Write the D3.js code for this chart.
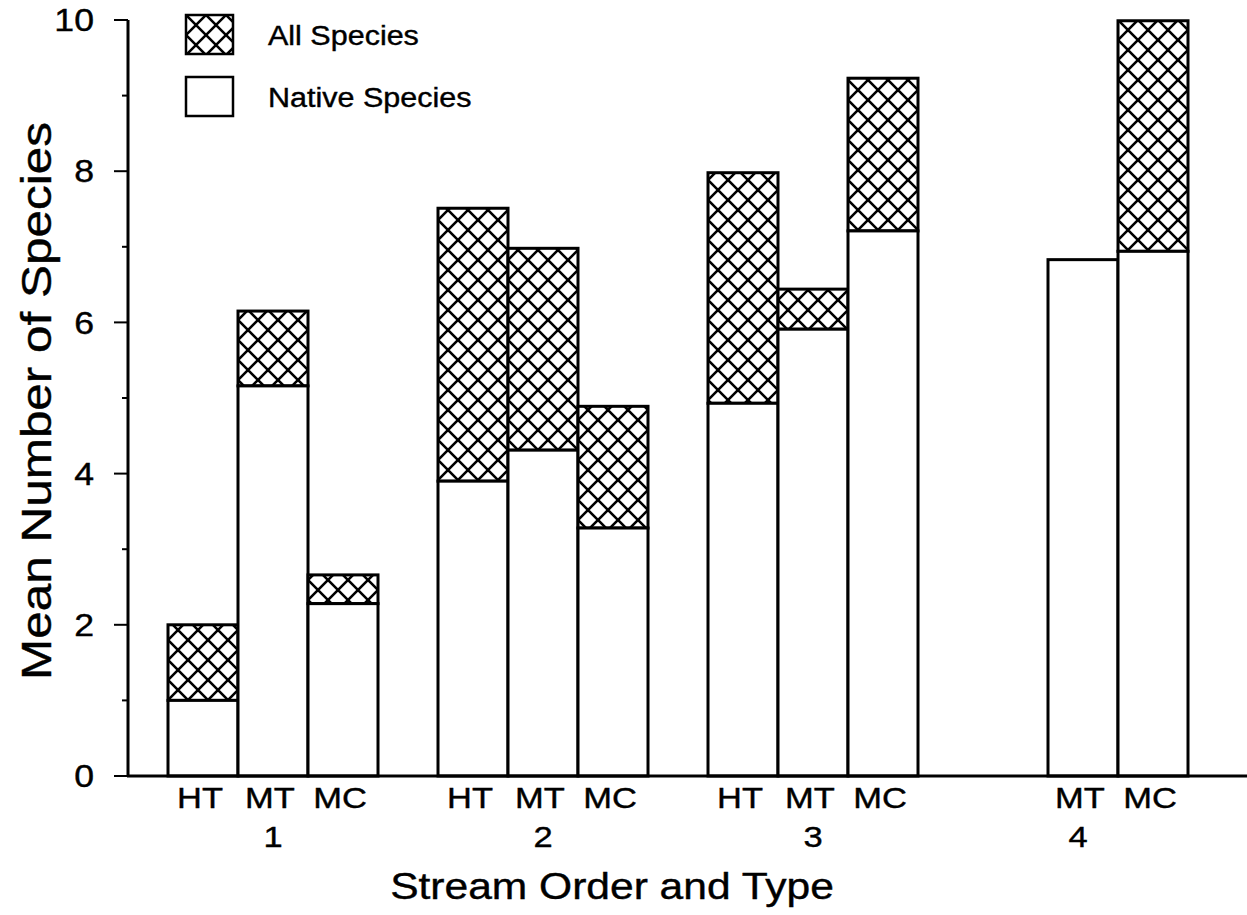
<!DOCTYPE html>
<html lang="en">
<head>
    <meta charset="UTF-8">
    <title>Mean Number of Species</title>
    <script src="https://d3js.org/d3.v7.min.js"></script>
    <style>
        body{ margin:0; background:#fff; }
        text{ font-family: "Liberation Sans", Arial, sans-serif; fill:#000; stroke:#000; stroke-width:0.4px; }
    </style>
</head>
<body>
    <svg id="chart" width="1247" height="915"></svg>

    <script>
        // data
        let groups = ["1", "2", "3", "4"];
        let types = ["HT", "MT", "MC"];
        // native species (white part) per group, per type; null = no bar
        let native_vals = [
            [1.0, 5.16, 2.28],
            [3.9, 4.31, 3.28],
            [4.93, 5.91, 7.21],
            [null, 6.83, 6.94]
        ];
        // all species (top of hatched part)
        let all_vals = [
            [2.0, 6.15, 2.66],
            [7.51, 6.98, 4.89],
            [7.98, 6.44, 9.23],
            [null, 6.83, 9.99]
        ];
        let yTicks = [0, 2, 4, 6, 8, 10];
        let yMinor = [1, 3, 5, 7, 9];
        let legendItems = ["All Species", "Native Species"];

        let svg = d3.select("#chart");
        let stretch = 1.15;   // scanned type looks wider than Liberation Sans

        // hatch pattern
        let pat = svg.append("defs").append("pattern")
            .attr("id", "xhatch")
            .attr("patternUnits", "userSpaceOnUse")
            .attr("width", 20).attr("height", 20);
        pat.append("rect").attr("width", 20).attr("height", 20).attr("fill", "#fff");
        pat.append("path")
            .attr("d", "M0,0L20,20M20,0L0,20M-3,17L3,23M17,-3L23,3M-3,3L3,-3M17,23L23,17")
            .attr("stroke", "#000").attr("stroke-width", 2.6);

        // scales
        let axisX = 128, axisY = 776, topY = 20;
        let y = d3.scaleLinear().domain([0, 10]).range([axisY, topY]);
        let xGroup = d3.scaleBand().domain(groups).range([168, 1188])
            .paddingInner(60 / 270).paddingOuter(0);
        let xType = d3.scaleBand().domain(types).range([0, xGroup.bandwidth()]);

        // bars
        let rows = [];
        groups.forEach(function (g, i) {
            types.forEach(function (t, j) {
                if (native_vals[i][j] != null) {
                    rows.push({group: g, type: t, native: native_vals[i][j], all: all_vals[i][j]});
                }
            });
        });

        let bars = svg.append("g").selectAll("g").data(rows).join("g")
            .attr("transform", d => "translate(" + (xGroup(d.group) + xType(d.type)) + ",0)");

        bars.filter(d => d.all > d.native).append("rect")
            .attr("x", 0).attr("width", xType.bandwidth())
            .attr("y", d => y(d.all))
            .attr("height", d => y(d.native) - y(d.all))
            .attr("fill", "url(#xhatch)")
            .attr("stroke", "#000").attr("stroke-width", 3);

        bars.append("rect")
            .attr("x", 0).attr("width", xType.bandwidth())
            .attr("y", d => y(d.native))
            .attr("height", d => y(0) - y(d.native))
            .attr("fill", "#fff")
            .attr("stroke", "#000").attr("stroke-width", 3);

        // y axis
        let yAxis = svg.append("g").attr("transform", "translate(" + axisX + ",0)");
        yAxis.append("line").attr("y1", y(10)).attr("y2", axisY)
            .attr("stroke", "#000").attr("stroke-width", 3);
        yAxis.selectAll(".major").data(yTicks).join("line")
            .attr("class", "major")
            .attr("x1", -14).attr("x2", 0)
            .attr("y1", d => y(d)).attr("y2", d => y(d))
            .attr("stroke", "#000").attr("stroke-width", 2);
        yAxis.selectAll(".minor").data(yMinor).join("line")
            .attr("class", "minor")
            .attr("x1", -6).attr("x2", 0)
            .attr("y1", d => y(d)).attr("y2", d => y(d))
            .attr("stroke", "#000").attr("stroke-width", 2);
        yAxis.selectAll(".tlab").data(yTicks).join("text")
            .attr("class", "tlab")
            .attr("transform", d => "translate(-34," + y(d) + ") scale(" + stretch + ",1)")
            .attr("dy", "0.36em")
            .attr("text-anchor", "end")
            .attr("font-size", 31)
            .text(d => d);

        // x axis line runs to the right edge
        svg.append("line")
            .attr("x1", axisX - 1).attr("x2", 1247)
            .attr("y1", axisY).attr("y2", axisY)
            .attr("stroke", "#000").attr("stroke-width", 3);

        // category labels
        svg.append("g").selectAll("text").data(rows).join("text")
            .attr("transform", d => "translate(" + (xGroup(d.group) + xType(d.type) + xType.bandwidth() / 2 - 3) + ",808) scale(" + stretch + ",1)")
            .attr("text-anchor", "middle")
            .attr("font-size", 30)
            .text(d => d.type);

        svg.append("g").selectAll("text").data(groups).join("text")
            .attr("transform", function (d) {
                // order 4 label sits under its first drawn bar
                let cx = d === "4" ? xGroup(d) + xType("MT") + xType.bandwidth() / 2 - 5
                                   : xGroup(d) + xGroup.bandwidth() / 2;
                return "translate(" + cx + ",847) scale(" + stretch + ",1)";
            })
            .attr("text-anchor", "middle")
            .attr("font-size", 30)
            .text(d => d);

        // axis titles
        svg.append("text")
            .attr("transform", "translate(612,899) scale(" + stretch + ",1)")
            .attr("text-anchor", "middle")
            .attr("font-size", 37)
            .text("Stream Order and Type");

        svg.append("text")
            .attr("transform", "translate(51,401) rotate(-90) scale(" + stretch + ",1)")
            .attr("text-anchor", "middle")
            .attr("font-size", 43)
            .text("Mean Number of Species");

        // legend
        let legend = svg.append("g").selectAll("g").data(legendItems).join("g")
            .attr("transform", (d, i) => "translate(186," + (15 + i * 62) + ")");
        legend.append("rect")
            .attr("width", 47).attr("height", 39)
            .attr("fill", (d, i) => i === 0 ? "url(#xhatch)" : "#fff")
            .attr("stroke", "#000").attr("stroke-width", 2.5);
        legend.append("text")
            .attr("transform", "translate(82,30) scale(1.13,1)")
            .attr("font-size", 27)
            .text(d => d);
    </script>
</body>
</html>
